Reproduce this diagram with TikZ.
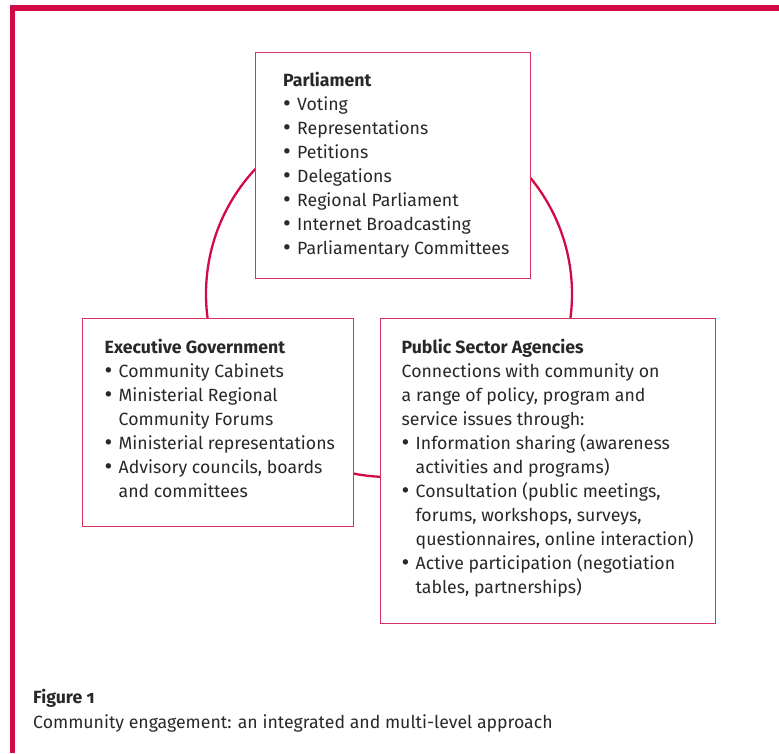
\documentclass[tikz,border=0pt]{standalone}
\usepackage{fontspec}
\setmainfont{Fira Sans}[Numbers=OldStyle]
\usetikzlibrary{positioning}
\definecolor{frame}{RGB}{210,10,70}
\definecolor{boxline}{RGB}{214,50,95}
\definecolor{ink}{RGB}{40,40,40}
\newcommand{\bul}{\makebox[14pt][l]{\raisebox{-0.1ex}{\scalebox{1.35}{\textbullet}}}}
\newcommand{\ind}{\hspace*{14pt}}
\newcommand{\firstln}{\rule{0pt}{15pt}}

\begin{document}
\begin{tikzpicture}[x=1pt,y=-1pt]
		\tikzset{box/.style = {draw=boxline, line width=1.4pt, fill=white, anchor=north west, inner sep=0pt}}
		\tikzset{txt/.style = {align=left, inner sep=0pt, text=ink, font=\fontsize{17.7}{24}\selectfont}}
		\tikzset{caption/.style = {anchor=base west, text=ink, inner sep=0pt, font=\fontsize{17.7}{24}\selectfont}}
		
		\useasboundingbox (0,0) rectangle (779,753);
		\draw[frame, line width=5.5pt] (12.5,753) -- (12.5,8) -- (779,8);
		
		% the ring behind the three boxes
		\draw[frame, line width=2.3pt] (389,294) circle (183);
		
		\node[box, minimum width=275, minimum height=226] (parl) at (255,52) {};
		\node[box, minimum width=271, minimum height=208] (exec) at (82,318) {};
		\node[box, minimum width=335, minimum height=305] (psa) at (380,318) {};
		
		\node[txt, below right=19pt and 28pt of parl.north west] (parltxt)
			{\firstln\textbf{Parliament}\\ \bul Voting\\ \bul Representations\\ \bul Petitions\\ \bul Delegations\\
			 \bul Regional Parliament\\ \bul Internet Broadcasting\\ \bul Parliamentary Committees};
		\node[txt, below right=20pt and 22.5pt of exec.north west] (exectxt)
			{\firstln\textbf{Executive Government}\\ \bul Community Cabinets\\ \bul Ministerial Regional\\ \ind Community Forums\\
			 \bul Ministerial representations\\ \bul Advisory councils, boards\\ \ind and committees};
		\node[txt, below right=20pt and 21.5pt of psa.north west] (psatxt)
			{\firstln\textbf{Public Sector Agencies}\\ Connections with community on\\ a range of policy, program and\\
			 service issues through:\\ \bul Information sharing (awareness\\ \ind activities and programs)\\
			 \bul Consultation (public meetings,\\ \ind forums, workshops, surveys,\\ \ind questionnaires, online interaction)\\
			 \bul Active participation (negotiation\\ \ind tables, partnerships)};
		
		\node[caption, font=\fontsize{17.7}{24}\selectfont\bfseries] (fig) at (33,703) {Figure 1};
		\node[caption] (cap) at (33,728) {Community engagement: an integrated and multi-level approach};
\end{tikzpicture}
\end{document}
